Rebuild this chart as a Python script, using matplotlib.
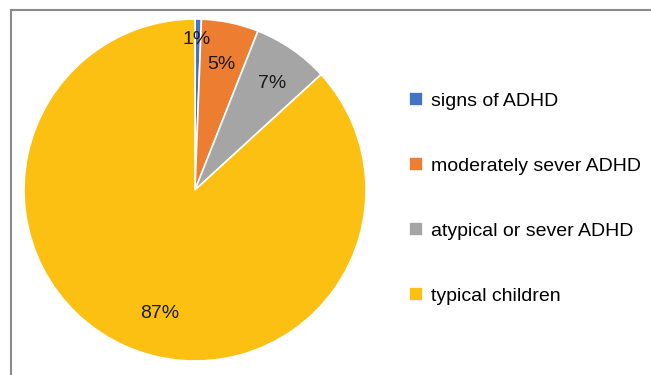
import matplotlib.pyplot as plt
from matplotlib.lines import Line2D

plt.rcParams['font.family'] = ['Liberation Sans', 'DejaVu Sans']

labels = ['signs of ADHD', 'moderately sever ADHD', 'atypical or sever ADHD', 'typical children']
shares = [0.6, 5.4, 7.2, 86.8]
colors = ['#4472C4', '#ED7D31', '#A5A5A5', '#FBC012']

W, H = 651, 375
fig = plt.figure(figsize=(W / 100, H / 100), dpi=100)

# pie area: centre ~ (195, 190) px, radius ~171 px
ax = fig.add_axes([24 / W, (H - 361) / H, 342 / W, 342 / H])
wedges, texts, autotexts = ax.pie(
    shares, colors=colors, startangle=90, counterclock=False,
    autopct='%.0f%%', pctdistance=0.75, radius=1,
    wedgeprops=dict(edgecolor='white', linewidth=1.2),
    textprops=dict(fontsize=14, color='#1a1a1a'))
ax.set_xlim(-1, 1)
ax.set_ylim(-1, 1)
ax.set_aspect('equal')
# label placement as in the original
autotexts[0].set_position((0.01, 0.88))
autotexts[2].set_position((0.45, 0.62))
autotexts[3].set_position((-0.205, -0.725))

fig.legend(wedges, labels, loc='center left',
           bbox_to_anchor=(409 / W, 1 - 198.5 / H), frameon=False,
           fontsize=14, labelspacing=2.43, handlelength=0.72,
           handleheight=0.72, handletextpad=0.42, borderpad=0,
           borderaxespad=0)

# partial frame (top and left edges)
fig.add_artist(Line2D([10.5 / W, 1], [1 - 9.5 / H, 1 - 9.5 / H],
                      transform=fig.transFigure, color='#8a8a8a', lw=1.5))
fig.add_artist(Line2D([10.5 / W, 10.5 / W], [0, 1 - 9.5 / H],
                      transform=fig.transFigure, color='#8a8a8a', lw=1.5))

fig.savefig('out.png', dpi=100)
